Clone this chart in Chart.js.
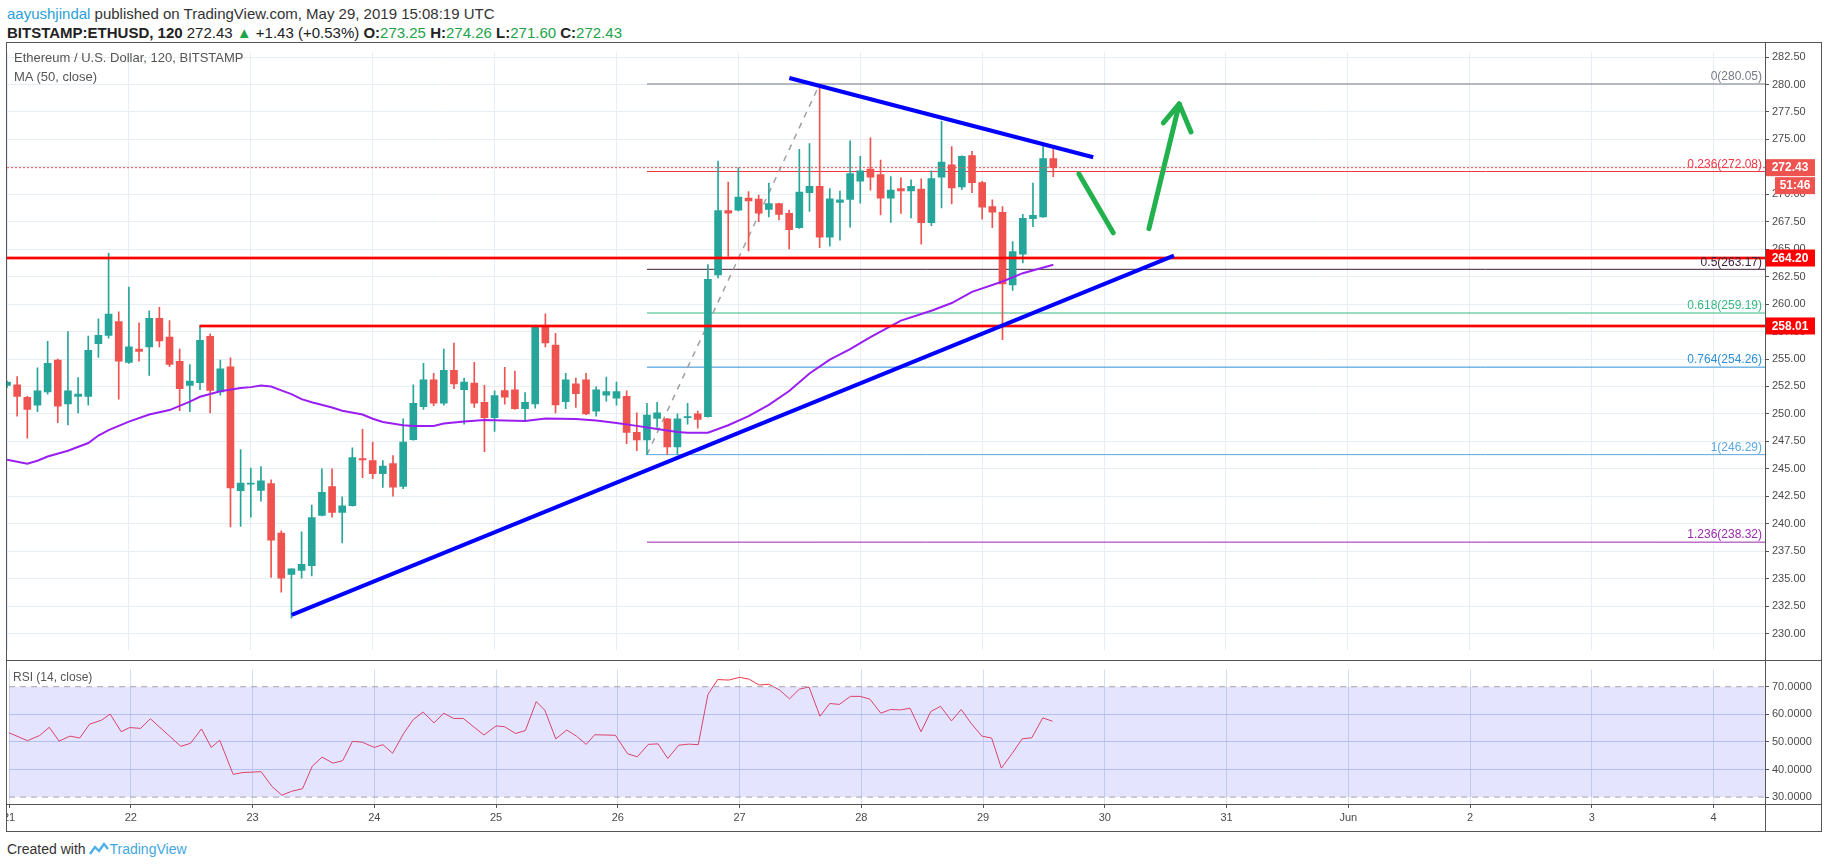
<!DOCTYPE html>
<html lang="en">
<head>
<meta charset="UTF-8">
<title>ETHUSD 120</title>
<script src="https://cdn.jsdelivr.net/npm/chart.js@4.4.1/dist/chart.umd.min.js"></script>
<style>
    body { margin:0; background:#fff; width:1828px; height:868px; position:relative; overflow:hidden;
           font-family:'Liberation Sans Narrow','Liberation Sans',sans-serif; color:#333; }
    .abs { position:absolute; white-space:nowrap; line-height:1.15; }
    .g { color:#22a34a; }
    .line { position:absolute; background:#555; pointer-events:none; z-index:5; }
    canvas { position:absolute; left:0; }
</style>
</head>
<body>
<div class="abs" style="left:7px;top:5px;font-size:15px;color:#333"><span style="color:#2a9fd8">aayushjindal</span> published on TradingView.com, May 29, 2019 15:08:19 UTC</div>
<div class="abs" style="left:7px;top:24px;font-size:15px;color:#222"><b>BITSTAMP:ETHUSD, 120</b> 272.43 <span class="g">&#9650;</span> +1.43 (+0.53%) <b>O:</b><span class="g">273.25</span> <b>H:</b><span class="g">274.26</span> <b>L:</b><span class="g">271.60</span> <b>C:</b><span class="g">272.43</span></div>

<canvas id="mainChart" width="1828" height="617" style="top:43px"></canvas>
<canvas id="rsiChart" width="1828" height="171" style="top:660px"></canvas>

<div class="abs" style="left:14px;top:51px;font-size:13px;color:#555;z-index:6">Ethereum / U.S. Dollar, 120, BITSTAMP</div>
<div class="abs" style="left:14px;top:70px;font-size:13px;color:#555;z-index:6">MA (50, close)</div>
<div class="abs" style="left:13px;top:671px;font-size:12px;color:#555;z-index:6">RSI (14, close)</div>

<div class="line" style="left:6px;top:42px;width:1816px;height:1px"></div>
<div class="line" style="left:6px;top:831px;width:1816px;height:1px"></div>
<div class="line" style="left:6px;top:42px;width:1px;height:790px"></div>
<div class="line" style="left:1821px;top:42px;width:1px;height:790px"></div>
<div class="line" style="left:1765px;top:42px;width:1px;height:790px"></div>
<div class="line" style="left:6px;top:660px;width:1816px;height:1px"></div>
<div class="line" style="left:6px;top:804px;width:1816px;height:1px"></div>

<div class="abs" style="left:7px;top:841px;font-size:14px;color:#333">Created with
    <svg width="20" height="14" viewBox="0 0 20 14" style="vertical-align:-2px"><path d="M1 12 L6 5 L10 9 L15 2 L19 7" fill="none" stroke="#4fb0e6" stroke-width="2.4"/></svg><span style="color:#3fa7e0">TradingView</span></div>

<script>
    // 2h candles from May 21 00:00 (x axis in days of May)
    var startDay = 21;
    var barStep = 2 / 24;
    var xMax = 35.422;

    var opens = [252.6,252.65,251.5,250.8,252.0,254.9,250.9,251.6,251.6,256.4,257.15,258.4,254.7,255.9,256.1,258.7,257.0,254.8,252.6,252.85,
        257.06,252.0,254.3,243.0,243.6,243.03,243.65,239.15,235.38,235.74,236.18,240.76,243.38,241.03,241.65,245.94,245.76,244.56,245.47,243.4,
        247.65,250.65,253.1,250.97,253.97,252.2,252.8,251.06,249.65,252.12,252.2,250.47,250.9,258.03,256.26,251.12,252.74,253.1,250.26,251.7,
        251.44,251.6,248.32,247.62,249.6,249.56,247.0,249.65,250.0,249.76,262.65,268.53,268.56,269.65,269.56,268.62,269.15,268.26,266.97,270.15,
        270.73,266.09,269.26,269.53,271.2,272.29,271.79,269.65,270.53,270.32,270.47,267.41,271.56,272.68,270.68,273.53,271.06,268.88,268.35,261.76,
        264.56,267.79,267.94,273.25];
    var highs = [253.0,253.4,251.6,254.2,256.6,255.0,257.5,253.3,257.1,258.65,264.65,259.3,261.55,258.3,259.4,259.7,258.5,255.9,254.5,258.0,
        257.3,254.9,255.1,246.75,245.06,245.2,244.0,239.35,235.9,239.26,241.7,245.0,245.0,242.44,246.9,248.6,247.44,245.76,246.2,249.56,
        252.65,254.6,253.7,255.9,256.45,253.26,254.7,252.6,252.1,254.24,253.9,251.94,258.0,259.12,257.35,253.7,253.26,253.7,252.47,253.35,
        252.9,252.1,250.1,250.97,251.06,249.6,250.0,250.97,250.26,263.6,273.03,271.12,272.44,270.24,269.94,271.03,269.2,268.56,274.09,274.62,
        280.05,270.53,270.29,274.88,273.47,275.15,273.12,271.62,271.5,271.32,271.41,272.15,276.65,274.35,273.5,273.91,271.18,269.5,268.88,265.7,
        268.18,271.03,274.41,274.26];
    var lows = [252.4,249.8,247.8,250.2,251.8,249.2,249.0,250.1,250.8,255.15,256.9,251.35,254.6,254.8,253.5,256.1,254.3,250.3,250.2,252.2,
        250.1,251.7,239.7,239.76,240.6,242.06,235.1,233.76,231.4,235.03,235.24,240.7,240.6,238.24,241.6,244.2,244.1,243.3,242.5,243.2,
        247.6,250.4,250.76,250.8,252.3,249.06,250.6,246.56,248.4,250.88,250.4,249.35,250.53,256.1,250.1,250.47,250.6,249.94,249.8,251.15,
        250.8,247.3,246.65,246.29,248.76,246.3,246.3,249.06,248.7,249.7,262.38,264.35,268.5,264.85,267.5,267.94,267.68,265.03,266.9,268.44,
        265.15,265.29,265.82,267.0,269.2,270.38,268.12,267.44,268.26,267.85,265.47,267.15,268.76,269.12,270.44,270.15,267.73,266.97,256.76,261.24,
        263.76,267.06,267.9,271.6];
    var closes = [252.9,251.6,250.4,252.1,254.6,250.7,252.1,251.8,255.8,257.15,259.1,254.8,256.1,255.7,258.7,256.65,254.5,252.3,253.0,256.7,
        252.15,254.1,243.25,243.7,243.7,243.9,238.5,235.03,235.88,236.3,240.56,242.85,241.03,241.62,246.03,245.8,244.56,245.24,243.32,247.44,
        250.97,253.1,250.97,253.97,252.74,252.9,250.97,249.65,251.68,251.53,250.47,251.06,257.94,256.47,250.82,253.1,251.85,250.0,252.2,252.03,
        252.03,248.32,247.62,249.9,250.1,247.0,249.56,249.76,249.5,262.26,268.53,268.29,269.76,269.41,268.29,269.15,268.18,266.79,270.2,270.73,
        266.09,269.59,269.5,271.88,272.15,271.56,269.65,270.38,270.32,270.73,267.41,271.44,272.94,270.59,273.47,271.06,268.82,268.38,261.85,264.79,
        267.82,268.09,273.25,272.43];

    // MA(50) read at bar positions
    var maBars = [0,2,3,4,6,8,9,10,12,14,16,18,19,21,23,24,25,26,27,28,29,30,32,33,35,36,37,39,40,42,43,45,47,49,51,53,56,58,60,62,64,66,67,69,70,71,73,75,77,79,81,83,85,88,91,93,95,98,100,103];
    var maValues = [245.82,245.47,245.74,246.12,246.65,247.35,248.03,248.53,249.3,249.94,250.35,251.12,251.56,252.06,252.35,252.44,252.59,252.5,252.15,251.8,
        251.35,251.06,250.59,250.29,249.94,249.56,249.26,248.97,248.91,248.91,249.12,249.3,249.44,249.41,249.35,249.59,249.53,249.41,249.18,248.91,
        248.62,248.35,248.29,248.29,248.62,248.97,249.79,250.82,252.09,253.68,254.94,255.9,257.0,258.5,259.4,260.1,261.12,262.06,262.82,263.59];

    // RSI(14)
    var rsiDays = [21.0,21.15,21.25,21.33,21.41,21.5,21.58,21.66,21.76,21.83,21.92,21.99,22.08,22.16,22.41,22.49,22.58,22.66,22.73,22.84,
        22.92,23.07,23.16,23.24,23.32,23.41,23.49,23.57,23.66,23.74,23.82,23.9,24.0,24.07,24.15,24.24,24.32,24.4,24.49,24.57,
        24.65,24.73,24.82,24.9,25.0,25.07,25.16,25.24,25.33,25.4,25.49,25.58,25.66,25.74,25.81,25.98,26.08,26.16,26.25,26.33,
        26.41,26.5,26.58,26.66,26.74,26.82,26.91,27.0,27.08,27.16,27.24,27.33,27.41,27.49,27.57,27.66,27.74,27.82,27.91,27.99,
        28.07,28.16,28.24,28.32,28.4,28.49,28.57,28.65,28.74,28.82,28.9,28.99,29.07,29.15,29.24,29.32,29.4,29.49,29.57];
    var rsiValues = [53.3,50.45,52.3,55.3,50.3,52.1,51.4,56.4,57.9,60.1,53.7,55.2,54.9,58.4,48.4,49.5,54.7,48.0,50.6,38.25,
        38.9,39.2,33.8,30.7,32.1,33.05,41.2,44.5,42.3,43.2,50.2,49.9,48.0,49.0,45.9,53.05,58.1,60.85,56.9,60.4,
        58.5,58.5,55.3,52.5,55.8,55.5,53.05,54.1,64.6,61.5,51.1,54.3,52.1,49.1,52.6,52.4,45.7,44.6,49.1,49.3,
        44.0,48.8,49.2,49.0,67.2,72.6,72.4,73.4,72.7,70.6,70.9,68.75,65.6,69.1,69.9,59.3,63.9,63.6,66.5,66.5,
        65.5,60.4,61.75,61.6,62.2,53.7,61.0,62.9,57.6,61.75,56.8,52.1,51.4,40.5,45.9,51.1,51.5,58.7,57.5];

    // drawings
    var fibLevels = ['0', '0.236', '0.5', '0.618', '0.764', '1', '1.236'];
    var fibPrices = [280.05, 272.08, 263.17, 259.19, 254.26, 246.29, 238.32];
    var fibColors = ['#787b86', '#f23645', '#3d1f3a', '#35b882', '#2e8fd8', '#5aa7e0', '#9c27b0'];
    var fibStart = 26.25;
    var supportLevels = [264.20, 258.01];
    var supportStart = [21, 22.58];
    var lastPrice = 272.43;
    var swingLine = [[26.25, 246.29], [27.667, 280.05]];
    var lowerTrend = [[23.336, 231.7], [30.573, 264.41]];
    var upperTrend = [[27.418, 280.6], [29.911, 273.38]];
    var greenDown = [[29.794, 271.86], [30.075, 266.5]];
    var greenUp = [[30.368, 266.88], [30.617, 278.24]];
    var greenHead = [[30.486, 276.5], [30.617, 278.24], [30.713, 275.68]];

    var priceTicks = [230, 232.5, 235, 237.5, 240, 242.5, 245, 247.5, 250, 252.5, 255, 257.5, 260, 262.5, 265, 267.5, 270, 272.5, 275, 277.5, 280, 282.5];
    var rsiTicks = [30, 40, 50, 60, 70];
    var dayTicks = [21, 22, 23, 24, 25, 26, 27, 28, 29, 30, 31, 32, 33, 34, 35];
    var dayLabels = ['21', '22', '23', '24', '25', '26', '27', '28', '29', '30', '31', 'Jun', '2', '3', '4'];

    Chart.defaults.font.family = "'Liberation Sans', sans-serif";
    Chart.defaults.animation = false;

    var barDays = opens.map(function (o, i) { return startDay + i * barStep; });
    var candleColors = opens.map(function (o, i) { return closes[i] >= o ? '#26a69a' : '#ef5350'; });

    function pts(arr) { return arr.map(function (p) { return {x: p[0], y: p[1]}; }); }
    function lineSet(data, color, width, order, extra) {
        var d = {type: 'line', data: data, borderColor: color, borderWidth: width, pointRadius: 0, tension: 0, fill: false, order: order};
        for (var k in extra) d[k] = extra[k];
        return d;
    }

    var datasets = [
        {type: 'bar', data: barDays.map(function (d, i) { return {x: d, y: [lows[i], highs[i]]}; }),
            backgroundColor: candleColors, barThickness: 1, grouped: false, order: 6},
        {type: 'bar', data: barDays.map(function (d, i) { return {x: d, y: [opens[i], closes[i]]}; }),
            backgroundColor: candleColors, barThickness: 7, minBarLength: 1, grouped: false, order: 5},
        lineSet(maBars.map(function (b, i) { return {x: startDay + b * barStep, y: maValues[i]}; }), '#9a1ef2', 2, 4, {}),
        lineSet([{x: startDay, y: lastPrice}, {x: xMax, y: lastPrice}], '#ef5350', 1, 3, {borderDash: [2, 2]}),
        lineSet(pts(swingLine), '#9e9e9e', 1.5, 8, {borderDash: [6, 6]}),
        lineSet(pts(lowerTrend), '#0000ff', 4, 1, {}),
        lineSet(pts(upperTrend), '#0000ff', 4, 1, {}),
        lineSet(pts(greenDown), '#22b14c', 5, 0, {borderCapStyle: 'round'}),
        lineSet(pts(greenUp), '#22b14c', 5, 0, {borderCapStyle: 'round'}),
        lineSet(pts(greenHead), '#22b14c', 5, 0, {borderCapStyle: 'round', borderJoinStyle: 'round'})
    ];
    fibPrices.forEach(function (p, i) {
        datasets.push(lineSet([{x: fibStart, y: p}, {x: xMax, y: p}], fibColors[i], 1, 9, {}));
    });
    supportLevels.forEach(function (p, i) {
        datasets.push(lineSet([{x: supportStart[i], y: p}, {x: xMax, y: p}], 'rgba(255,0,0,0.35)', 4, 2, {}));
        datasets.push(lineSet([{x: supportStart[i], y: p}, {x: xMax, y: p}], '#ff0000', 2, 2, {}));
    });

    var mainLabels = {
        id: 'mainLabels',
        afterDraw: function (chart) {
            var ctx = chart.ctx, x = chart.scales.x, y = chart.scales.y;
            ctx.save();
            ctx.font = "12px 'Liberation Sans'";
            ctx.textAlign = 'right';
            ctx.textBaseline = 'bottom';
            fibPrices.forEach(function (p, i) {
                ctx.fillStyle = fibColors[i];
                ctx.fillText(fibLevels[i] + '(' + p.toFixed(2) + ')', x.right - 3, y.getPixelForValue(p) - 1);
            });
            // price tags on the axis
            function tag(value, bg, text, left, top) {
                var py = top !== undefined ? top : y.getPixelForValue(value) - 8.5;
                ctx.fillStyle = bg;
                ctx.fillRect(left, py, x.right + 50 - left, 17);
                ctx.fillStyle = '#fff';
                ctx.font = "bold 12px 'Liberation Sans'";
                ctx.textAlign = 'center';
                ctx.textBaseline = 'middle';
                ctx.fillText(text, (left + x.right + 50) / 2, py + 9);
                return py;
            }
            var t = tag(lastPrice, '#ef5350', lastPrice.toFixed(2), x.right);
            tag(null, '#ef5350', '51:46', x.right + 10, t + 18);
            supportLevels.forEach(function (p) { tag(p, '#ff0000', p.toFixed(2), x.right); });
            ctx.restore();
        }
    };

    new Chart(document.getElementById('mainChart'), {
        type: 'bar',
        data: {datasets: datasets},
        plugins: [mainLabels],
        options: {
            responsive: false, devicePixelRatio: 1, events: [],
            layout: {padding: {left: 7, right: 7, top: 0, bottom: 0}},
            plugins: {legend: {display: false}, tooltip: {enabled: false}},
            scales: {
                x: {type: 'linear', min: startDay, max: xMax, offset: false,
                    grid: {color: '#e6edf3', offset: false, drawTicks: false},
                    border: {display: false}, ticks: {display: false},
                    afterBuildTicks: function (s) { s.ticks = dayTicks.map(function (v) { return {value: v}; }); },
                    afterFit: function (s) { s.height = 0; }},
                y: {position: 'right', min: 228.46, max: 282.91, beginAtZero: false,
                    grid: {color: '#e6edf3', tickColor: '#555', tickLength: 4},
                    border: {display: false},
                    ticks: {color: '#4a4a4a', padding: 3, font: {size: 11},
                        callback: function (v) { return v.toFixed(2); }},
                    afterBuildTicks: function (s) { s.ticks = priceTicks.map(function (v) { return {value: v}; }); },
                    afterFit: function (s) { s.width = 56; }}
            }
        }
    });

    var leftMask = {
        id: 'leftMask',
        afterDraw: function (chart) {
            chart.ctx.fillStyle = '#fff';
            chart.ctx.fillRect(0, chart.chartArea.bottom + 1, 6, 30);
        }
    };

    new Chart(document.getElementById('rsiChart'), {
        type: 'line',
        data: {datasets: [
            {data: [{x: startDay, y: 70}, {x: xMax, y: 70}], borderColor: '#a3a3ad', borderWidth: 1, borderDash: [6, 5], pointRadius: 0, fill: false},
            {data: [{x: startDay, y: 30}, {x: xMax, y: 30}], borderColor: '#a3a3ad', borderWidth: 1, borderDash: [6, 5], pointRadius: 0,
                fill: '-1', backgroundColor: 'rgba(120,120,250,0.2)'},
            {data: rsiDays.map(function (d, i) { return {x: d, y: rsiValues[i]}; }), borderColor: '#f23645', borderWidth: 1,
                pointRadius: 0, tension: 0, fill: false}
        ]},
        plugins: [leftMask],
        options: {
            responsive: false, devicePixelRatio: 1, events: [],
            layout: {padding: {left: 7, right: 7, top: 0, bottom: 0}},
            plugins: {legend: {display: false}, tooltip: {enabled: false}},
            scales: {
                x: {type: 'linear', min: startDay, max: xMax,
                    grid: {color: '#d3def2', tickColor: '#555', tickLength: 4},
                    border: {display: false},
                    ticks: {color: '#4a4a4a', padding: 3, font: {size: 11}, maxRotation: 0, autoSkip: false,
                        callback: function (v) { var i = dayTicks.indexOf(v); return i < 0 ? '' : dayLabels[i]; }},
                    afterBuildTicks: function (s) { s.ticks = dayTicks.map(function (v) { return {value: v}; }); },
                    afterFit: function (s) { s.height = 27; }},
                y: {position: 'right', min: 27.5, max: 76.2,
                    grid: {color: function (c) { return (c.tick && (c.tick.value === 30 || c.tick.value === 70)) ? 'rgba(0,0,0,0)' : '#c3d3f0'; },
                        tickColor: '#555', tickLength: 4},
                    border: {display: false},
                    ticks: {color: '#4a4a4a', padding: 3, font: {size: 11},
                        callback: function (v) { return v.toFixed(4); }},
                    afterBuildTicks: function (s) { s.ticks = rsiTicks.map(function (v) { return {value: v}; }); },
                    afterFit: function (s) { s.width = 56; }}
            }
        }
    });
</script>
</body>
</html>
